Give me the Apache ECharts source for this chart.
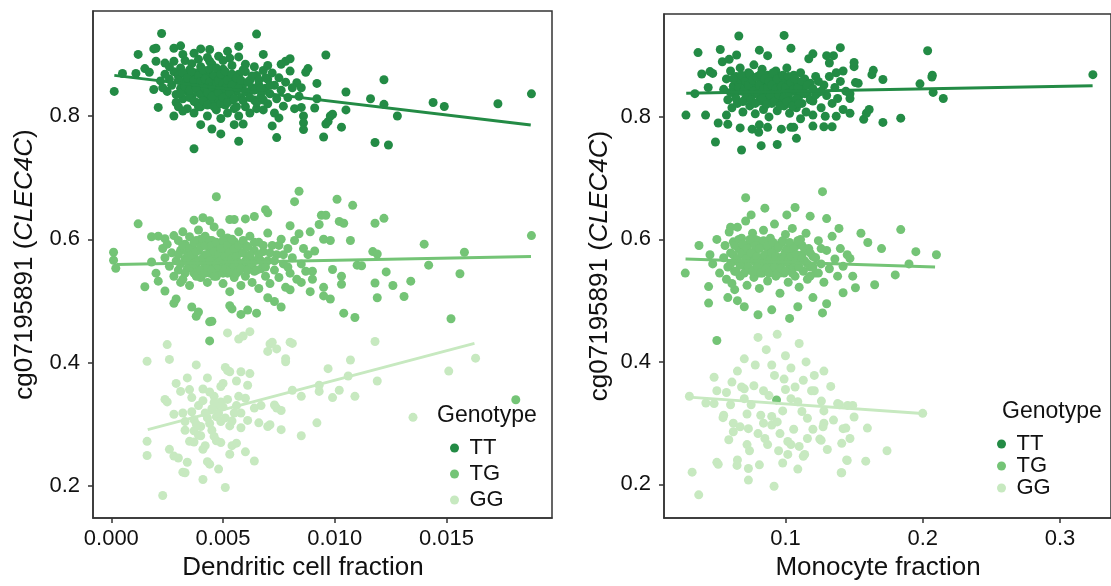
<!DOCTYPE html>
<html>
<head>
<meta charset="utf-8">
<script src="https://cdn.jsdelivr.net/npm/echarts@6/dist/echarts.min.js"></script>
<style>
  html, body { margin: 0; padding: 0; background: #fff; }
  #main { width: 1111px; height: 586px; }
</style>
</head>
<body>
<div id="main"></div>
<script>
// genotype groups
var genotypes = ['TT', 'TG', 'GG']
var colors = ['#238B45', '#74C476', '#C7E9C0']

// tick labels
var leftXTicks = [0, 0.005, 0.010, 0.015]
var rightXTicks = [0.1, 0.2, 0.3]
var yTicks = [0.2, 0.4, 0.6, 0.8]

// left panel: dendritic cell fraction vs methylation
var leftTT = [[0.00013,0.840],[0.00225,0.934],[0.0065,0.933],[0.0012,0.900],[0.0019,0.909],[0.0020,0.910],[0.0028,0.910],[0.0031,0.914],[0.0040,0.909],[0.0044,0.908],[0.0052,0.905],[0.0057,0.913],[0.0068,0.900],[0.0096,0.899],[0.0048,0.897],[0.0053,0.894],[0.0057,0.896],[0.0015,0.877],[0.0017,0.871],[0.0005,0.869],[0.0011,0.869],[0.0020,0.889],[0.0024,0.886],[0.0028,0.889],[0.0032,0.900],[0.0037,0.902],[0.0039,0.892],[0.0044,0.889],[0.0078,0.889],[0.0076,0.884],[0.0088,0.877],[0.0087,0.871],[0.0092,0.853],[0.0083,0.854],[0.0085,0.846],[0.0105,0.839],[0.0122,0.859],[0.0116,0.828],[0.0122,0.819],[0.0128,0.800],[0.0144,0.822],[0.0149,0.8155],[0.0173,0.820],[0.0188,0.836],[0.0118,0.757],[0.0124,0.753],[0.0095,0.766],[0.0103,0.782],[0.0096,0.787],[0.0097,0.791],[0.0098,0.800],[0.0099,0.803],[0.0105,0.810],[0.0092,0.828],[0.0091,0.813],[0.0085,0.814],[0.0086,0.800],[0.0086,0.789],[0.0086,0.778],[0.0074,0.765],[0.0072,0.784],[0.0075,0.797],[0.0057,0.759],[0.0049,0.771],[0.0045,0.779],[0.0040,0.786],[0.0037,0.747],[0.0021,0.814],[0.0019,0.843],[0.0025,0.840],[0.0029,0.822],[0.0055,0.786],[0.0059,0.787],
  [0.0026,0.860],[0.0027,0.850],[0.0028,0.872],[0.0029,0.835],[0.0030,0.865],[0.0031,0.845],[0.0031,0.878],[0.0032,0.828],[0.0033,0.856],[0.0033,0.868],[0.0034,0.840],[0.0034,0.812],[0.0035,0.875],[0.0035,0.850],[0.0036,0.832],[0.0036,0.862],[0.0037,0.805],[0.0037,0.845],[0.0038,0.870],[0.0038,0.822],[0.0039,0.855],[0.0039,0.838],[0.0040,0.880],[0.0040,0.815],[0.0041,0.848],[0.0041,0.862],[0.0042,0.830],[0.0042,0.872],[0.0043,0.800],[0.0043,0.852],[0.0044,0.840],[0.0044,0.866],[0.0045,0.822],[0.0045,0.884],[0.0046,0.846],[0.0046,0.858],[0.0047,0.810],[0.0047,0.836],[0.0048,0.870],[0.0048,0.826],[0.0049,0.852],[0.0049,0.796],[0.0050,0.842],[0.0050,0.876],[0.0051,0.818],[0.0051,0.860],[0.0052,0.834],[0.0052,0.805],[0.0053,0.866],[0.0053,0.848],[0.0054,0.826],[0.0054,0.882],[0.0055,0.812],[0.0055,0.856],[0.0056,0.840],[0.0057,0.868],[0.0057,0.800],[0.0058,0.830],[0.0059,0.852],[0.0060,0.815],[0.0060,0.872],[0.0061,0.838],[0.0062,0.858],[0.0062,0.805],[0.0063,0.846],[0.0064,0.826],[0.0065,0.866],[0.0065,0.812],[0.0066,0.850],[0.0067,0.832],[0.0068,0.874],[0.0068,0.810],[0.0069,0.845],[0.0070,0.860],[0.0070,0.820],[0.0071,0.836],[0.0072,0.870],[0.0073,0.805],[0.0073,0.850],[0.0074,0.828],[0.0075,0.862],[0.0076,0.842],[0.0077,0.816],[0.0078,0.855],[0.0079,0.830],[0.0080,0.873],[0.0081,0.846],[0.0082,0.812],[0.0084,0.832],[0.0028,0.800],[0.0030,0.815],[0.0032,0.808],[0.0024,0.868],[0.0022,0.857],[0.0023,0.846],[0.0026,0.880],[0.0033,0.890],[0.0036,0.885],[0.0043,0.895],[0.0050,0.890],[0.0060,0.884],[0.0064,0.880],[0.0070,0.882],[0.0080,0.893],
  [0.0030,0.858],[0.0031,0.838],[0.0032,0.870],[0.0033,0.848],[0.0034,0.862],[0.0035,0.830],[0.0035,0.842],[0.0036,0.872],[0.0037,0.858],[0.0037,0.824],[0.0038,0.846],[0.0039,0.866],[0.0039,0.815],[0.0040,0.835],[0.0040,0.856],[0.0041,0.875],[0.0041,0.825],[0.0042,0.845],[0.0042,0.860],[0.0043,0.818],[0.0043,0.838],[0.0044,0.855],[0.0044,0.876],[0.0045,0.832],[0.0045,0.848],[0.0046,0.866],[0.0046,0.815],[0.0047,0.852],[0.0047,0.878],[0.0048,0.838],[0.0048,0.858],[0.0049,0.820],[0.0049,0.868],[0.0050,0.830],[0.0050,0.852],[0.0051,0.845],[0.0051,0.872],[0.0052,0.822],[0.0052,0.858],[0.0053,0.838],[0.0054,0.850],[0.0054,0.868],[0.0055,0.828],[0.0056,0.862],[0.0056,0.815],[0.0057,0.845],[0.0058,0.858],[0.0059,0.825],[0.0059,0.875],[0.0060,0.840],[0.0061,0.855],[0.0062,0.830],[0.0063,0.865],[0.0064,0.842],[0.0065,0.822],[0.0066,0.858],[0.0067,0.845],[0.0068,0.826],[0.0069,0.862],[0.0071,0.850]]

var leftTG = [[0.0001,0.579],[0.0001,0.566],[0.0002,0.553],[0.0012,0.625],[0.0047,0.669],[0.0084,0.678],[0.0082,0.661],[0.0101,0.665],[0.0108,0.655],[0.0069,0.648],[0.0070,0.643],[0.0094,0.639],[0.0096,0.639],[0.0093,0.624],[0.0102,0.629],[0.0104,0.626],[0.0118,0.626],[0.0122,0.634],[0.0107,0.598],[0.0140,0.592],[0.0188,0.606],[0.0158,0.579],[0.0117,0.580],[0.0119,0.576],[0.0142,0.558],[0.0156,0.544],[0.0123,0.547],[0.0134,0.532],[0.0126,0.525],[0.0118,0.529],[0.0119,0.505],[0.0131,0.507],[0.0152,0.471],[0.0104,0.480],[0.0109,0.473],[0.0098,0.503],[0.0103,0.527],[0.0103,0.540],[0.0099,0.551],[0.0110,0.558],[0.0112,0.557],[0.0076,0.490],[0.0073,0.499],[0.0070,0.505],[0.0065,0.480],[0.0061,0.485],[0.0053,0.492],[0.0054,0.487],[0.0045,0.467],[0.0038,0.475],[0.0039,0.482],[0.0028,0.496],[0.0029,0.503],[0.0015,0.523],[0.0018,0.563],[0.0018,0.604],[0.0021,0.605],[0.0024,0.601],[0.0028,0.606],[0.0037,0.631],[0.0041,0.635],[0.0044,0.630],[0.0053,0.632],[0.0055,0.632],[0.0060,0.633],[0.0064,0.637],[0.0080,0.622],[0.0084,0.609],[0.0089,0.612],[0.0095,0.600],[0.0098,0.598],[0.0091,0.581],[0.0090,0.548],[0.0090,0.535],[0.0095,0.522],[0.0095,0.508],[0.0089,0.515],[0.0085,0.530],[0.0080,0.518],[0.0020,0.545],[0.0021,0.532],[0.0024,0.516],[0.0031,0.530],[0.0181,0.3395],[0.0044,0.435],[0.0044,0.466],[0.0036,0.490],[0.0058,0.478],
  [0.0023,0.585],[0.0024,0.570],[0.0025,0.592],[0.0026,0.556],[0.0027,0.578],[0.0028,0.540],[0.0029,0.565],[0.0030,0.598],[0.0030,0.550],[0.0031,0.582],[0.0032,0.612],[0.0032,0.535],[0.0033,0.568],[0.0033,0.592],[0.0034,0.552],[0.0034,0.578],[0.0035,0.604],[0.0035,0.525],[0.0036,0.562],[0.0036,0.587],[0.0037,0.545],[0.0037,0.572],[0.0038,0.598],[0.0038,0.555],[0.0039,0.582],[0.0039,0.615],[0.0040,0.538],[0.0040,0.565],[0.0041,0.590],[0.0041,0.550],[0.0042,0.575],[0.0042,0.605],[0.0043,0.530],[0.0043,0.560],[0.0044,0.585],[0.0044,0.545],[0.0045,0.570],[0.0045,0.598],[0.0046,0.555],[0.0046,0.620],[0.0047,0.580],[0.0047,0.540],[0.0048,0.565],[0.0048,0.592],[0.0049,0.550],[0.0049,0.610],[0.0050,0.575],[0.0050,0.528],[0.0051,0.560],[0.0051,0.588],[0.0052,0.545],[0.0052,0.602],[0.0053,0.570],[0.0053,0.515],[0.0054,0.555],[0.0054,0.583],[0.0055,0.538],[0.0055,0.596],[0.0056,0.565],[0.0057,0.548],[0.0057,0.612],[0.0058,0.578],[0.0058,0.525],[0.0059,0.560],[0.0060,0.590],[0.0060,0.540],[0.0061,0.572],[0.0062,0.555],[0.0062,0.605],[0.0063,0.530],[0.0064,0.582],[0.0064,0.548],[0.0065,0.566],[0.0066,0.595],[0.0066,0.520],[0.0067,0.552],[0.0068,0.580],[0.0069,0.540],[0.0070,0.610],[0.0070,0.565],[0.0071,0.528],[0.0072,0.590],[0.0073,0.550],[0.0074,0.575],[0.0075,0.538],[0.0076,0.600],[0.0077,0.560],[0.0078,0.522],[0.0079,0.585],[0.0080,0.545],[0.0081,0.570],[0.0082,0.598],[0.0083,0.535],[0.0085,0.560],[0.0086,0.585],[0.0087,0.548],[0.0088,0.575],[0.0040,0.600],[0.0045,0.582],[0.0050,0.560],[0.0055,0.575],[0.0048,0.545],[0.0042,0.558],[0.0058,0.592],[0.0062,0.570],[0.0052,0.585],[0.0046,0.570],[0.0056,0.555],
  [0.0030,0.575],[0.0031,0.560],[0.0032,0.590],[0.0033,0.545],[0.0034,0.565],[0.0035,0.585],[0.0035,0.555],[0.0036,0.575],[0.0037,0.595],[0.0037,0.560],[0.0038,0.540],[0.0038,0.580],[0.0039,0.565],[0.0040,0.550],[0.0040,0.588],[0.0041,0.570],[0.0041,0.600],[0.0042,0.545],[0.0042,0.590],[0.0043,0.575],[0.0043,0.555],[0.0044,0.565],[0.0044,0.598],[0.0045,0.550],[0.0045,0.590],[0.0046,0.580],[0.0046,0.540],[0.0047,0.560],[0.0047,0.595],[0.0048,0.575],[0.0048,0.555],[0.0049,0.585],[0.0049,0.565],[0.0050,0.545],[0.0050,0.598],[0.0051,0.572],[0.0051,0.552],[0.0052,0.565],[0.0052,0.590],[0.0053,0.548],[0.0053,0.580],[0.0054,0.568],[0.0054,0.600],[0.0055,0.555],[0.0055,0.585],[0.0056,0.572],[0.0056,0.545],[0.0057,0.590],[0.0057,0.562],[0.0058,0.552],[0.0059,0.578],[0.0059,0.598],[0.0060,0.565],[0.0061,0.550],[0.0061,0.588],[0.0062,0.575],[0.0063,0.560],[0.0064,0.595],[0.0065,0.550],[0.0066,0.575],[0.0067,0.565],[0.0068,0.590],[0.0069,0.555],[0.0071,0.578],[0.0073,0.565],[0.0075,0.590],[0.0077,0.575],[0.0079,0.555]]

var leftGG = [[0.0016,0.402],[0.0025,0.429],[0.0026,0.405],[0.0052,0.448],[0.0057,0.438],[0.0059,0.443],[0.0062,0.450],[0.0071,0.430],[0.0072,0.433],[0.0070,0.418],[0.0080,0.433],[0.0081,0.431],[0.0074,0.422],[0.0078,0.406],[0.0078,0.401],[0.0118,0.434],[0.0107,0.404],[0.0097,0.390],[0.0151,0.386],[0.0163,0.407],[0.0119,0.370],[0.0106,0.378],[0.0102,0.355],[0.0099,0.343],[0.0109,0.345],[0.0093,0.353],[0.0093,0.363],[0.0081,0.355],[0.0085,0.345],[0.0135,0.311],[0.0092,0.302],[0.0085,0.281],[0.0076,0.291],[0.0073,0.331],[0.0074,0.326],[0.0076,0.322],[0.0066,0.302],[0.0070,0.296],[0.0071,0.299],[0.0067,0.330],[0.0064,0.326],[0.0060,0.342],[0.0058,0.318],[0.0064,0.240],[0.0060,0.255],[0.0053,0.251],[0.0056,0.269],[0.0054,0.265],[0.0051,0.197],[0.0041,0.210],[0.0048,0.227],[0.0044,0.235],[0.0043,0.239],[0.0032,0.222],[0.0033,0.221],[0.0034,0.238],[0.0030,0.245],[0.0026,0.259],[0.0028,0.248],[0.0016,0.272],[0.0016,0.249],[0.0023,0.184],[0.0037,0.289],[0.0040,0.281],[0.0037,0.271],[0.0035,0.272],[0.0041,0.259],[0.0049,0.270],[0.0047,0.273],[0.0024,0.340],[0.0025,0.336],[0.0029,0.366],[0.0031,0.353],[0.0034,0.375],[0.0038,0.396],[0.0041,0.357],[0.0043,0.375],[0.0046,0.345],[0.0047,0.331],[0.0049,0.336],[0.0051,0.392],[0.0052,0.387],[0.0053,0.385],[0.0058,0.385],[0.0062,0.382],[0.0056,0.370],[0.0061,0.363],[0.0049,0.361],[0.0050,0.366],[0.0028,0.316],[0.0032,0.318],[0.0033,0.304],[0.0037,0.307],[0.0040,0.296],[0.0044,0.301],[0.0049,0.304],[0.0053,0.297],[0.0058,0.294],[0.0061,0.306],[0.0045,0.325],[0.0042,0.318],[0.0039,0.330],[0.0047,0.312],[0.0055,0.318],[0.0036,0.343],[0.0044,0.352],
  [0.0036,0.320],[0.0038,0.300],[0.0041,0.338],[0.0043,0.310],[0.0045,0.290],[0.0046,0.335],[0.0048,0.318],[0.0050,0.328],[0.0051,0.310],[0.0052,0.340],[0.0054,0.305],[0.0056,0.330],[0.0035,0.356],[0.0057,0.345],[0.0039,0.282],[0.0042,0.265],[0.0046,0.280],[0.0033,0.290]]

// right panel: monocyte fraction vs methylation
var rightTT = [[0.0275,0.803],[0.034,0.838],[0.0363,0.905],[0.039,0.870],[0.0418,0.803],[0.049,0.759],[0.051,0.790],[0.045,0.874],[0.047,0.871],[0.0437,0.848],[0.0525,0.910],[0.066,0.932],[0.099,0.933],[0.104,0.912],[0.081,0.909],[0.087,0.900],[0.0644,0.901],[0.054,0.890],[0.059,0.894],[0.068,0.746],[0.0823,0.753],[0.067,0.782],[0.0757,0.780],[0.058,0.788],[0.057,0.803],[0.081,0.787],[0.0805,0.775],[0.087,0.783],[0.094,0.755],[0.108,0.765],[0.097,0.780],[0.104,0.783],[0.106,0.783],[0.111,0.797],[0.12,0.785],[0.128,0.784],[0.134,0.784],[0.129,0.801],[0.137,0.801],[0.147,0.806],[0.12,0.803],[0.157,0.796],[0.159,0.806],[0.161,0.812],[0.171,0.791],[0.184,0.798],[0.147,0.830],[0.147,0.838],[0.151,0.856],[0.153,0.855],[0.15,0.882],[0.15,0.889],[0.140,0.913],[0.130,0.900],[0.135,0.900],[0.120,0.903],[0.117,0.895],[0.132,0.888],[0.163,0.869],[0.164,0.876],[0.171,0.861],[0.142,0.875],[0.137,0.872],[0.2036,0.908],[0.207,0.868],[0.2067,0.865],[0.198,0.854],[0.2076,0.840],[0.215,0.830],[0.324,0.869],
  [0.055,0.845],[0.057,0.862],[0.058,0.828],[0.060,0.875],[0.061,0.815],[0.062,0.850],[0.063,0.838],[0.064,0.866],[0.065,0.822],[0.066,0.855],[0.067,0.880],[0.068,0.842],[0.069,0.808],[0.070,0.862],[0.071,0.830],[0.072,0.848],[0.073,0.872],[0.074,0.818],[0.075,0.858],[0.076,0.836],[0.077,0.885],[0.078,0.805],[0.079,0.850],[0.080,0.866],[0.081,0.826],[0.082,0.842],[0.083,0.878],[0.084,0.812],[0.085,0.856],[0.086,0.834],[0.087,0.868],[0.088,0.800],[0.089,0.846],[0.090,0.822],[0.091,0.860],[0.092,0.838],[0.093,0.875],[0.094,0.810],[0.095,0.852],[0.096,0.828],[0.097,0.866],[0.098,0.842],[0.099,0.818],[0.100,0.858],[0.101,0.880],[0.102,0.834],[0.103,0.806],[0.104,0.850],[0.105,0.826],[0.106,0.868],[0.107,0.842],[0.108,0.815],[0.109,0.856],[0.110,0.834],[0.111,0.872],[0.112,0.822],[0.113,0.848],[0.114,0.862],[0.115,0.808],[0.116,0.838],[0.118,0.855],[0.120,0.826],[0.122,0.866],[0.124,0.840],[0.126,0.815],[0.128,0.852],[0.130,0.835],[0.132,0.866],[0.134,0.822],[0.136,0.848],[0.138,0.830],[0.140,0.858],[0.142,0.812],[0.144,0.842],[0.072,0.860],[0.078,0.838],[0.084,0.850],[0.090,0.866],[0.096,0.840],[0.102,0.852],[0.088,0.828],[0.082,0.856],[0.094,0.832],[0.100,0.845],[0.076,0.848],[0.106,0.858],
  [0.060,0.840],[0.062,0.862],[0.064,0.830],[0.066,0.848],[0.068,0.868],[0.069,0.825],[0.070,0.845],[0.071,0.858],[0.072,0.835],[0.073,0.852],[0.074,0.870],[0.075,0.828],[0.076,0.860],[0.077,0.842],[0.078,0.822],[0.079,0.865],[0.080,0.838],[0.081,0.852],[0.082,0.870],[0.083,0.830],[0.084,0.845],[0.085,0.862],[0.086,0.820],[0.087,0.848],[0.088,0.858],[0.089,0.835],[0.090,0.852],[0.091,0.872],[0.092,0.826],[0.093,0.846],[0.094,0.862],[0.095,0.836],[0.096,0.818],[0.097,0.850],[0.098,0.868],[0.099,0.832],[0.100,0.848],[0.101,0.825],[0.102,0.866],[0.103,0.840],[0.104,0.856],[0.105,0.818],[0.106,0.845],[0.107,0.862],[0.108,0.830],[0.109,0.848],[0.110,0.822],[0.112,0.858],[0.114,0.838],[0.116,0.852],[0.118,0.828],[0.120,0.846],[0.122,0.836],[0.124,0.858],[0.126,0.842]]

var rightTG = [[0.071,0.668],[0.127,0.678],[0.107,0.652],[0.037,0.590],[0.027,0.545],[0.044,0.523],[0.044,0.496],[0.065,0.500],[0.063,0.518],[0.080,0.477],[0.103,0.471],[0.109,0.490],[0.184,0.616],[0.21,0.575],[0.19,0.560],[0.18,0.542],[0.165,0.526],[0.149,0.540],[0.151,0.521],[0.142,0.513],[0.13,0.495],[0.127,0.480],[0.147,0.569],[0.075,0.640],[0.085,0.651],[0.101,0.640],[0.118,0.638],[0.130,0.634],[0.139,0.618],[0.05,0.435],[0.0935,0.338],[0.047,0.560],[0.045,0.575],[0.050,0.600],[0.052,0.545],[0.058,0.505],[0.170,0.585],[0.160,0.595],[0.195,0.580],[0.120,0.505],[0.090,0.485],[0.070,0.490],[0.155,0.610],[0.060,0.620],
  [0.055,0.570],[0.056,0.590],[0.057,0.535],[0.058,0.555],[0.059,0.612],[0.060,0.578],[0.061,0.528],[0.062,0.596],[0.063,0.548],[0.064,0.565],[0.065,0.620],[0.066,0.585],[0.067,0.540],[0.068,0.602],[0.069,0.558],[0.070,0.575],[0.071,0.630],[0.072,0.525],[0.073,0.592],[0.074,0.550],[0.075,0.568],[0.076,0.610],[0.077,0.538],[0.078,0.582],[0.079,0.555],[0.080,0.598],[0.081,0.520],[0.082,0.570],[0.083,0.545],[0.084,0.615],[0.085,0.560],[0.086,0.588],[0.087,0.532],[0.088,0.575],[0.089,0.602],[0.090,0.550],[0.091,0.565],[0.092,0.625],[0.093,0.540],[0.094,0.585],[0.095,0.558],[0.096,0.512],[0.097,0.595],[0.098,0.572],[0.099,0.545],[0.100,0.608],[0.101,0.562],[0.102,0.530],[0.103,0.580],[0.104,0.552],[0.105,0.618],[0.106,0.568],[0.107,0.540],[0.108,0.590],[0.109,0.558],[0.110,0.522],[0.111,0.600],[0.112,0.575],[0.113,0.548],[0.114,0.565],[0.115,0.610],[0.116,0.535],[0.117,0.585],[0.118,0.555],[0.120,0.572],[0.122,0.545],[0.124,0.598],[0.126,0.560],[0.128,0.530],[0.130,0.582],[0.132,0.552],[0.134,0.605],[0.136,0.568],[0.138,0.540],[0.140,0.585],[0.142,0.556],[0.145,0.575],[0.070,0.560],[0.076,0.575],[0.082,0.590],[0.088,0.560],[0.094,0.570],[0.100,0.580],[0.106,0.555],[0.080,0.545],[0.090,0.585],[0.096,0.545],[0.086,0.570],[0.078,0.600],[0.112,0.590],[0.118,0.540],
  [0.060,0.560],[0.062,0.575],[0.063,0.590],[0.064,0.548],[0.065,0.568],[0.066,0.600],[0.067,0.558],[0.068,0.578],[0.069,0.592],[0.070,0.545],[0.071,0.568],[0.072,0.585],[0.073,0.555],[0.074,0.600],[0.075,0.578],[0.076,0.548],[0.077,0.565],[0.078,0.590],[0.079,0.572],[0.080,0.555],[0.081,0.585],[0.082,0.545],[0.083,0.565],[0.084,0.598],[0.085,0.575],[0.086,0.552],[0.087,0.590],[0.088,0.545],[0.089,0.568],[0.090,0.578],[0.091,0.595],[0.092,0.555],[0.093,0.572],[0.094,0.545],[0.095,0.588],[0.096,0.565],[0.097,0.552],[0.098,0.598],[0.099,0.568],[0.100,0.548],[0.101,0.585],[0.102,0.565],[0.103,0.595],[0.104,0.572],[0.105,0.545],[0.106,0.585],[0.107,0.562],[0.108,0.575],[0.109,0.598],[0.110,0.555],[0.112,0.568],[0.114,0.585],[0.116,0.560],[0.118,0.578],[0.120,0.555],[0.122,0.570],[0.124,0.545],[0.126,0.585]]

var rightGG = [[0.032,0.220],[0.0368,0.183],[0.073,0.207],[0.073,0.226],[0.0647,0.231],[0.050,0.236],[0.051,0.233],[0.0917,0.197],[0.0738,0.255],[0.072,0.265],[0.0587,0.273],[0.062,0.286],[0.055,0.313],[0.0545,0.309],[0.042,0.333],[0.048,0.332],[0.030,0.344],[0.050,0.353],[0.057,0.350],[0.048,0.375],[0.061,0.367],[0.068,0.359],[0.070,0.356],[0.077,0.361],[0.084,0.353],[0.092,0.378],[0.099,0.372],[0.107,0.359],[0.113,0.370],[0.121,0.353],[0.109,0.335],[0.112,0.319],[0.116,0.308],[0.084,0.300],[0.090,0.297],[0.094,0.302],[0.080,0.283],[0.085,0.275],[0.1017,0.270],[0.104,0.265],[0.110,0.262],[0.114,0.249],[0.113,0.246],[0.1017,0.249],[0.116,0.275],[0.126,0.272],[0.128,0.300],[0.062,0.300],[0.067,0.294],[0.073,0.291],[0.082,0.313],[0.090,0.311],[0.141,0.219],[0.1446,0.240],[0.141,0.267],[0.147,0.275],[0.138,0.332],[0.142,0.291],[0.119,0.353],[0.121,0.378],[0.1262,0.336],[0.1394,0.330],[0.1453,0.329],[0.149,0.329],[0.150,0.310],[0.200,0.316],[0.1274,0.294],[0.144,0.292],[0.1597,0.292],[0.125,0.274],[0.1305,0.257],[0.174,0.255],[0.145,0.239],[0.1585,0.238],[0.1406,0.219],[0.078,0.395],[0.086,0.420],[0.094,0.445],[0.100,0.410],[0.070,0.405],[0.080,0.440],[0.110,0.430],[0.065,0.385],[0.090,0.395],[0.104,0.390],[0.115,0.400],[0.128,0.385],[0.133,0.360],[0.060,0.330],[0.075,0.330],[0.098,0.320],[0.104,0.340],[0.088,0.345],[0.072,0.315],[0.106,0.290],[0.096,0.283],[0.120,0.290],[0.135,0.305],[0.07,0.340],[0.1,0.355],[0.128,0.320],[0.065,0.240],[0.081,0.232],[0.095,0.255],[0.087,0.265],[0.109,0.225],[0.098,0.235]]

// fitted lines (end points)
var leftFitTT = [[0.000134, 0.866], [0.01877, 0.7855]]
var leftFitTG = [[0.00024, 0.559], [0.01878, 0.572]]
var leftFitGG = [[0.00163, 0.291], [0.01625, 0.431]]
var rightFitTT = [[0.0277, 0.8387], [0.3238, 0.851]]
var rightFitTG = [[0.0272, 0.568], [0.209, 0.555]]
var rightFitGG = [[0.0296, 0.3425], [0.1997, 0.3157]]

var font = 'Liberation Sans, Arial, Helvetica, sans-serif'
var textColor = '#111'
var myChart = echarts.init(document.getElementById('main'), null, { renderer: 'canvas' })

function xAxisOf (grid, min, max, ticks, digits, name, pad) {
  return {
    type: 'value',
    gridIndex: grid,
    min: min,
    max: max,
    name: name,
    nameLocation: 'middle',
    nameGap: 36,
    nameTextStyle: { fontFamily: font, fontSize: 26, color: textColor, padding: [0, pad, 0, 0] },
    axisLine: { show: true, onZero: false, lineStyle: { color: '#333', width: 1.5 } },
    axisTick: { show: true, length: 5, customValues: ticks, lineStyle: { color: '#333', width: 1.5 } },
    axisLabel: {
      customValues: ticks,
      margin: 10,
      fontFamily: font,
      fontSize: 22,
      color: textColor,
      formatter: function (v) { return v.toFixed(digits) }
    },
    splitLine: { show: false }
  }
}

function yAxisOf (grid, min, max, gap) {
  return {
    type: 'value',
    gridIndex: grid,
    min: min,
    max: max,
    name: 'cg07195891 ({it|CLEC4C})',
    nameLocation: 'middle',
    nameGap: gap,
    nameTextStyle: {
      fontFamily: font,
      fontSize: 26,
      color: textColor,
      rich: { it: { fontFamily: font, fontSize: 26, fontStyle: 'italic', color: textColor } }
    },
    axisLine: { show: true, onZero: false, lineStyle: { color: '#333', width: 1.5 } },
    axisTick: { show: true, length: 5, customValues: yTicks, lineStyle: { color: '#333', width: 1.5 } },
    axisLabel: {
      customValues: yTicks,
      margin: 13,
      fontFamily: font,
      fontSize: 22,
      color: textColor,
      formatter: function (v) { return v.toFixed(1) }
    },
    splitLine: { show: false }
  }
}

function points (name, idx, data, color) {
  return {
    name: name,
    type: 'scatter',
    xAxisIndex: idx,
    yAxisIndex: idx,
    symbol: 'circle',
    symbolSize: 9,
    itemStyle: { color: color, opacity: 1 },
    data: data,
    z: 2
  }
}

function fit (name, idx, data, color) {
  return {
    name: name,
    type: 'line',
    xAxisIndex: idx,
    yAxisIndex: idx,
    symbol: 'none',
    showSymbol: false,
    lineStyle: { color: color, width: 3 },
    itemStyle: { color: color },
    data: data,
    z: 3
  }
}

function legendOf (left, top, gap) {
  return {
    orient: 'vertical',
    left: left,
    top: top,
    data: genotypes,
    icon: 'circle',
    itemWidth: 20,
    itemHeight: 9,
    itemGap: gap,
    padding: 0,
    selectedMode: false,
    textStyle: { fontFamily: font, fontSize: 22, color: textColor, padding: 0 }
  }
}

var option = {
  animation: false,
  backgroundColor: '#fff',
  grid: [
    { left: 93, top: 11, width: 459, height: 512, show: true, borderColor: '#333', borderWidth: 1.5 },
    { left: 664, top: 14, width: 455, height: 510, show: true, borderColor: '#333', borderWidth: 1.5 }
  ],
  xAxis: [
    xAxisOf(0, -0.00082, 0.01972, leftXTicks, 3, 'Dendritic cell fraction', 39),
    xAxisOf(1, 0.0115, 0.3372, rightXTicks, 1, 'Monocyte fraction', 19)
  ],
  yAxis: [
    yAxisOf(0, 0.1474, 0.9705, 55),
    yAxisOf(1, 0.145, 0.968, 51)
  ],
  legend: [
    legendOf(450, 437, 4),
    legendOf(997, 433, 0)
  ],
  graphic: [
    { type: 'text', left: 437, top: 404, style: { text: 'Genotype', font: '23px ' + font, fill: textColor } },
    { type: 'text', left: 1002, top: 400, style: { text: 'Genotype', font: '23px ' + font, fill: textColor } }
  ],
  series: [
    points('TT', 0, leftTT, colors[0]),
    points('TG', 0, leftTG, colors[1]),
    points('GG', 0, leftGG, colors[2]),
    fit('TT fit', 0, leftFitTT, colors[0]),
    fit('TG fit', 0, leftFitTG, colors[1]),
    fit('GG fit', 0, leftFitGG, colors[2]),
    points('TT', 1, rightTT, colors[0]),
    points('TG', 1, rightTG, colors[1]),
    points('GG', 1, rightGG, colors[2]),
    fit('TT fit', 1, rightFitTT, colors[0]),
    fit('TG fit', 1, rightFitTG, colors[1]),
    fit('GG fit', 1, rightFitGG, colors[2])
  ]
}

myChart.setOption(option)
</script>
</body>
</html>
